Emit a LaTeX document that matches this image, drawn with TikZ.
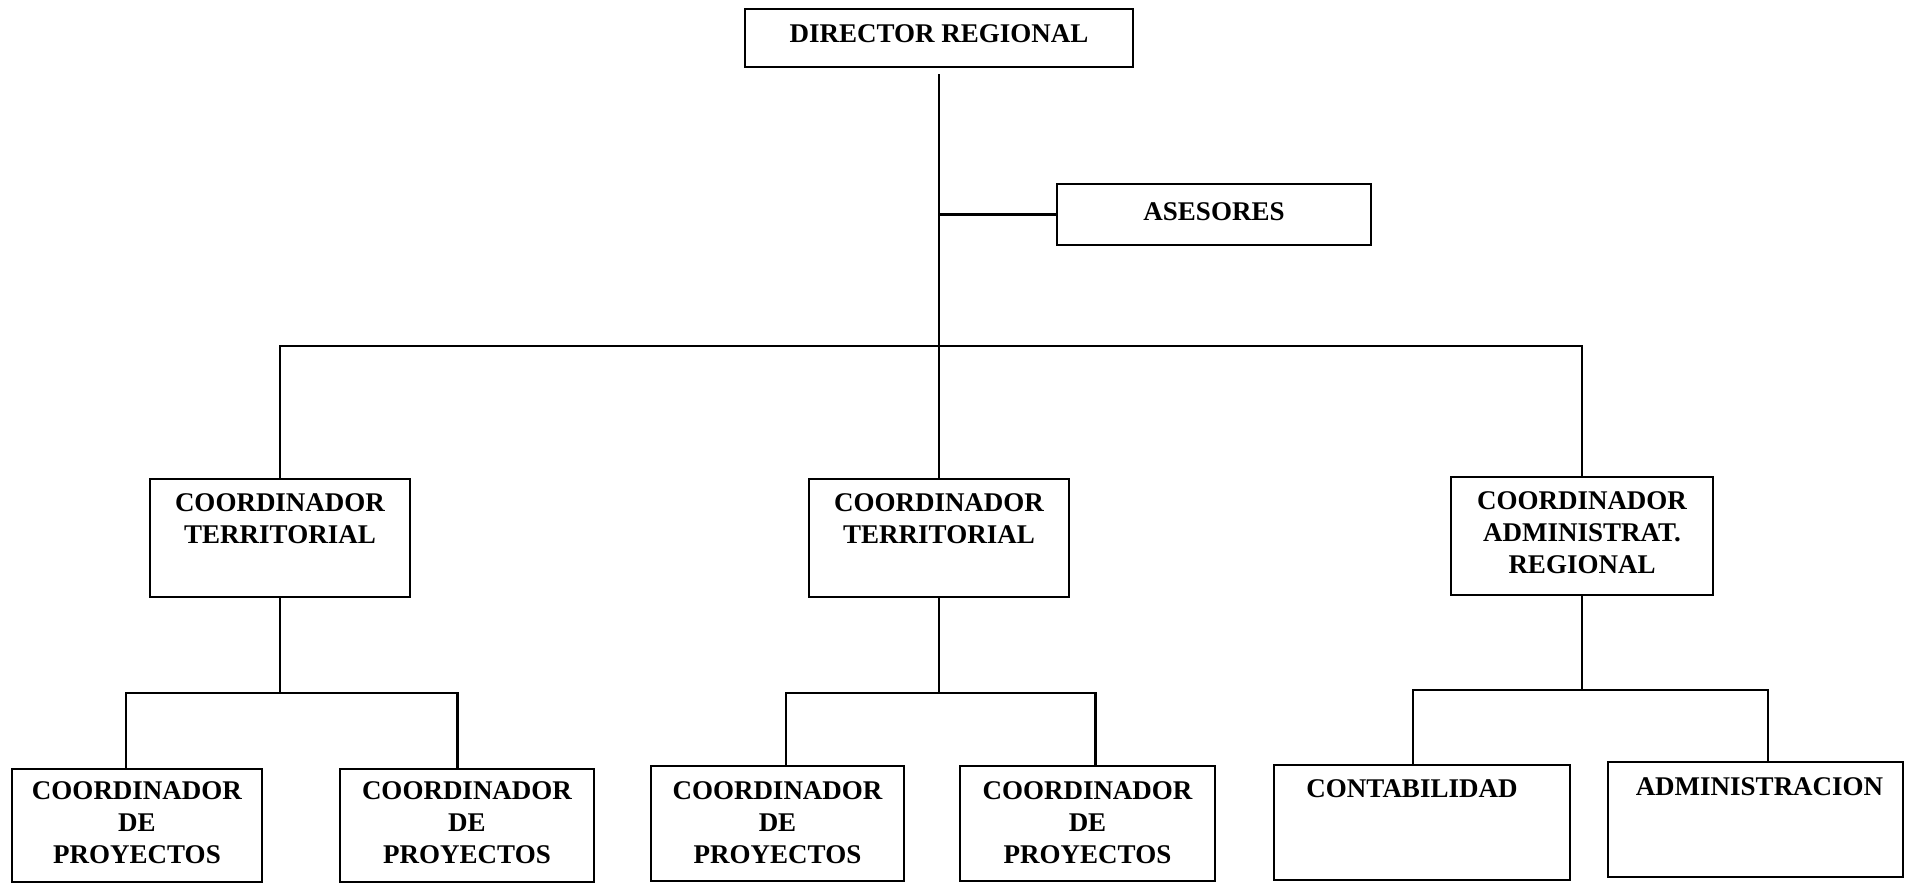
\documentclass[tikz,border=0pt]{standalone}
\usepackage{fontspec}
\setmainfont{Liberation Serif}
\begin{document}
\begin{tikzpicture}[x=0.5pt,y=-0.5pt,
  box/.style 2 args={draw, line width=1pt, inner sep=0pt, minimum width=#1*0.5pt, minimum height=#2*0.5pt},
  lbl/.style={font=\bfseries\fontsize{13.5}{16}\selectfont, align=center, anchor=north, inner sep=0pt},
  conn/.style={line width=1.2pt}]
\useasboundingbox (0,0) rectangle (1913,884);
% boxes
\node[box={388}{58}]  (dir)   at (939,38) {};
\node[box={314}{61}]  (ases)  at (1214,214.5) {};
\node[box={260}{118}] (ct1)   at (280,538) {};
\node[box={260}{118}] (ct2)   at (939,538) {};
\node[box={262}{118}] (car)   at (1582,536) {};
\node[box={250}{113}] (cp1)   at (137,825.5) {};
\node[box={254}{113}] (cp2)   at (467,825.5) {};
\node[box={253}{115}] (cp3)   at (777.5,823.5) {};
\node[box={255}{115}] (cp4)   at (1087.5,823.5) {};
\node[box={296}{115}] (cont)  at (1422,822.5) {};
\node[box={295}{115}] (admin) at (1755.5,819.5) {};
% labels
\node[lbl] (dirt)   at ([yshift=-8pt]dir.north) {DIRECTOR REGIONAL};
\node[lbl] (asest)  at ([yshift=-9.5pt]ases.north) {ASESORES};
\node[lbl] (ct1t)   at ([yshift=-7.5pt]ct1.north) {COORDINADOR\\TERRITORIAL};
\node[lbl] (ct2t)   at ([yshift=-7.5pt]ct2.north) {COORDINADOR\\TERRITORIAL};
\node[lbl] (cart)   at ([yshift=-7.5pt]car.north) {COORDINADOR\\ADMINISTRAT.\\REGIONAL};
\node[lbl] (cp1t)   at ([yshift=-6.5pt]cp1.north) {COORDINADOR\\DE\\PROYECTOS};
\node[lbl] (cp2t)   at ([yshift=-6.5pt]cp2.north) {COORDINADOR\\DE\\PROYECTOS};
\node[lbl] (cp3t)   at ([yshift=-8pt]cp3.north) {COORDINADOR\\DE\\PROYECTOS};
\node[lbl] (cp4t)   at ([yshift=-8pt]cp4.north) {COORDINADOR\\DE\\PROYECTOS};
\node[lbl] (contt)  at ([xshift=-5pt,yshift=-7.5pt]cont.north) {CONTABILIDAD};
\node[lbl] (admint) at ([xshift=2pt,yshift=-8pt]admin.north) {ADMINISTRACION};
% connectors
\draw[conn, shorten <=3pt] (dir.south) -- (ct2.north);
\draw[conn] (ases.west) -- (ases.west -| dir.south);
\draw[conn] (ct1.north) -- ++(0,-132) -| (car.north);
\draw[conn] (ct1.south) -- ++(0,95) coordinate (j1);
\draw[conn] ([xshift=-5.5pt]cp1.north) |- (j1) -| ([xshift=-4.75pt]cp2.north);
\draw[conn] (ct2.south) -- ++(0,95) coordinate (j2);
\draw[conn] ([xshift=4.25pt]cp3.north) |- (j2) -| ([xshift=4pt]cp4.north);
\draw[conn] (car.south) -- ++(0,94) coordinate (j3);
\draw[conn] ([xshift=-4.5pt]cont.north) |- (j3) -| ([xshift=6.25pt]admin.north);
\end{tikzpicture}
\end{document}
